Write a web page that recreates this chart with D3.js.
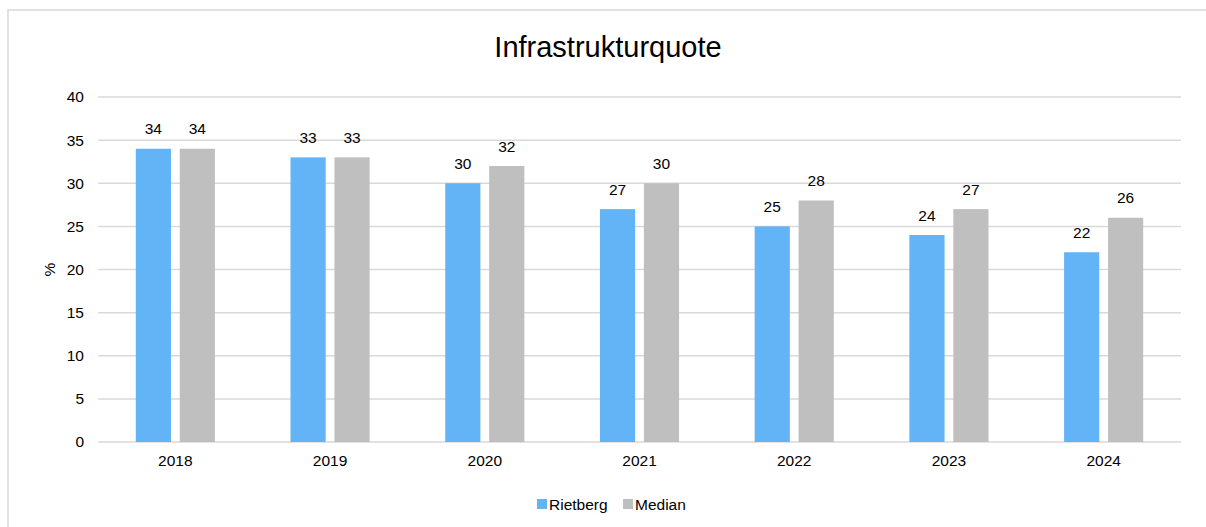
<!DOCTYPE html>
<html>
<head>
<meta charset="utf-8">
<script src="https://cdn.jsdelivr.net/npm/d3@7"></script>
<style>
  body { margin: 0; background: #fff; }
  svg { font-family: "Liberation Sans", Arial, sans-serif; }
</style>
</head>
<body>
<script>
const years = ['2018', '2019', '2020', '2021', '2022', '2023', '2024'];
const rietberg = [34, 33, 30, 27, 25, 24, 22];
const median = [34, 33, 32, 30, 28, 27, 26];
const seriesNames = ['Rietberg', 'Median'];
const colors = ['#63b4f6', '#bfbfbf'];
const yTicks = [0, 5, 10, 15, 20, 25, 30, 35, 40];

const width = 1206, height = 527;
const margin = { left: 98, right: 25, top: 97, bottom: 85 };
const fs = 15.5;

const svg = d3.select('body').append('svg')
    .attr('width', width)
    .attr('height', height);

// chart frame
svg.append('rect')
    .attr('x', 8).attr('y', 10)
    .attr('width', 1210).attr('height', 530)
    .attr('fill', '#fff')
    .attr('stroke', '#d9d9d9')
    .attr('stroke-width', 1.5);

svg.append('text')
    .attr('x', 608).attr('y', 57)
    .attr('text-anchor', 'middle')
    .attr('font-size', 29)
    .attr('fill', '#000')
    .text('Infrastrukturquote');

const x = d3.scaleBand()
    .domain(years)
    .range([margin.left, width - margin.right]);

const inner = d3.scaleBand()
    .domain(seriesNames)
    .range([0, x.bandwidth()])
    .paddingInner(0.2)
    .paddingOuter(0.86);

const y = d3.scaleLinear()
    .domain([0, 40])
    .range([height - margin.bottom, margin.top]);

// gridlines
svg.append('g')
    .selectAll('line')
    .data(yTicks)
    .enter()
    .append('line')
    .attr('x1', margin.left)
    .attr('x2', width - margin.right)
    .attr('y1', d => y(d))
    .attr('y2', d => y(d))
    .attr('stroke', '#d9d9d9')
    .attr('stroke-width', 1.5);

// y axis
const yAxis = svg.append('g')
    .attr('transform', `translate(${margin.left},0)`)
    .call(d3.axisLeft(y).tickValues(yTicks).tickSize(0).tickPadding(14));
yAxis.select('.domain').remove();
yAxis.selectAll('text').attr('font-size', fs).attr('fill', '#000')
    .attr('font-family', '"Liberation Sans", Arial, sans-serif');

// x axis
const xAxis = svg.append('g')
    .attr('transform', `translate(0,${height - margin.bottom})`)
    .call(d3.axisBottom(x).tickSize(0).tickPadding(13));
xAxis.select('.domain').remove();
xAxis.selectAll('text').attr('font-size', fs).attr('fill', '#000')
    .attr('font-family', '"Liberation Sans", Arial, sans-serif');

svg.append('text')
    .attr('transform', `translate(55,${y(20)}) rotate(-90)`)
    .attr('text-anchor', 'middle')
    .attr('font-size', fs)
    .text('%');

const rows = years.map((yr, i) => ({ year: yr, values: [rietberg[i], median[i]] }));

const groups = svg.append('g')
    .selectAll('g')
    .data(rows)
    .enter()
    .append('g')
    .attr('transform', d => `translate(${x(d.year)},0)`);

groups.selectAll('rect')
    .data(d => d.values.map((v, j) => ({ name: seriesNames[j], value: v, j })))
    .enter()
    .append('rect')
    .attr('x', d => inner(d.name))
    .attr('y', d => y(d.value))
    .attr('width', inner.bandwidth())
    .attr('height', d => y(0) - y(d.value))
    .attr('fill', d => colors[d.j]);

groups.selectAll('text.val')
    .data(d => d.values.map((v, j) => ({ name: seriesNames[j], value: v })))
    .enter()
    .append('text')
    .attr('class', 'val')
    .attr('x', d => inner(d.name) + inner.bandwidth() / 2)
    .attr('y', d => y(d.value) - 14.5)
    .attr('text-anchor', 'middle')
    .attr('font-size', fs)
    .text(d => d.value);

// legend
const legend = svg.append('g').attr('transform', 'translate(537,499)');
const legendX = [0, 86];
seriesNames.forEach((name, i) => {
    legend.append('rect')
        .attr('x', legendX[i]).attr('y', 0)
        .attr('width', 10).attr('height', 10)
        .attr('fill', colors[i]);
    legend.append('text')
        .attr('x', legendX[i] + 12).attr('y', 11)
        .attr('font-size', fs)
        .text(name);
});
</script>
</body>
</html>
